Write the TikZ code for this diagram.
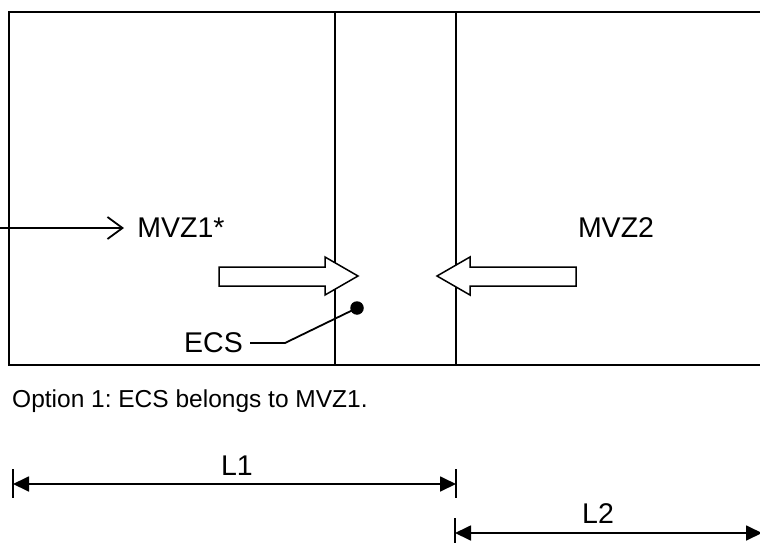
\documentclass[tikz,border=0pt]{standalone}
\usepackage{fontspec}
\setmainfont{Liberation Sans}
\usetikzlibrary{arrows.meta}
\frenchspacing
\begin{document}
\begin{tikzpicture}[x=1pt,y=-1pt,
  lbl/.style={inner sep=0pt,font=\fontsize{28.5}{34}\selectfont},
  caption/.style={inner sep=0pt,font=\fontsize{24.5}{29}\selectfont},
  wall/.style={line width=1.8pt},
  blockarrow/.style={line width=1.5pt,fill=white,line join=miter},
  dimline/.style={line width=1.8pt,{Triangle[length=16pt,width=15pt]}-{Triangle[length=16pt,width=15pt]}},
  tick/.style={line width=1.8pt}]
\useasboundingbox (0,0) rectangle (760,543);
% outer frame
\draw[wall] (9,12) rectangle (780,365);
\draw[wall] (335,12) -- (335,365);
\draw[wall] (456,12) -- (456,365);
% labels
\node[lbl] (mvz1) at (181,228) {MVZ1*};
\node[lbl] (mvz2) at (616,228) {MVZ2};
\coordinate (inL) at (-5,228);
\coordinate (inR) at (124,228);
\draw[line width=1.8pt,-{Straight Barb[length=15pt,width=22pt,line width=1.8pt]}] (inL) -- (inR);
% block arrows
\draw[blockarrow] (219,267) -- (325,267) -- (325,257) -- (358,276) -- (325,295) -- (325,286) -- (219,286) -- cycle;
\draw[blockarrow] (576,267) -- (470,267) -- (470,257) -- (437,276) -- (470,295) -- (470,286) -- (576,286) -- cycle;
% ECS
\node[circle,fill=black,inner sep=0pt,minimum size=13.5pt] (dot) at (357,308) {};
\node[lbl,anchor=east] (ecs) at (243,343) {ECS};
\coordinate (bend) at (285,343);
\coordinate (ecsend) at (250,343);
\draw[line width=1.8pt] (dot.center) -- (bend) -- (ecsend);
% caption
\node[caption,anchor=base west] (opt) at (12,407) {Option 1: ECS belongs to MVZ1.};
% L1
\coordinate (l1a) at (13,484);
\coordinate (l1b) at (456,484);
\draw[tick] (13,469) -- (13,498);
\draw[tick] (456,469) -- (456,498);
\draw[dimline] (l1a) -- (l1b);
\node[lbl] (l1) at (237,466) {L1};
% L2
\coordinate (l2a) at (455,533);
\coordinate (l2b) at (762,533);
\draw[tick] (455,518) -- (455,548);
\draw[dimline] (l2a) -- (l2b);
\node[lbl] (l2) at (598,514) {L2};
\end{tikzpicture}
\end{document}
